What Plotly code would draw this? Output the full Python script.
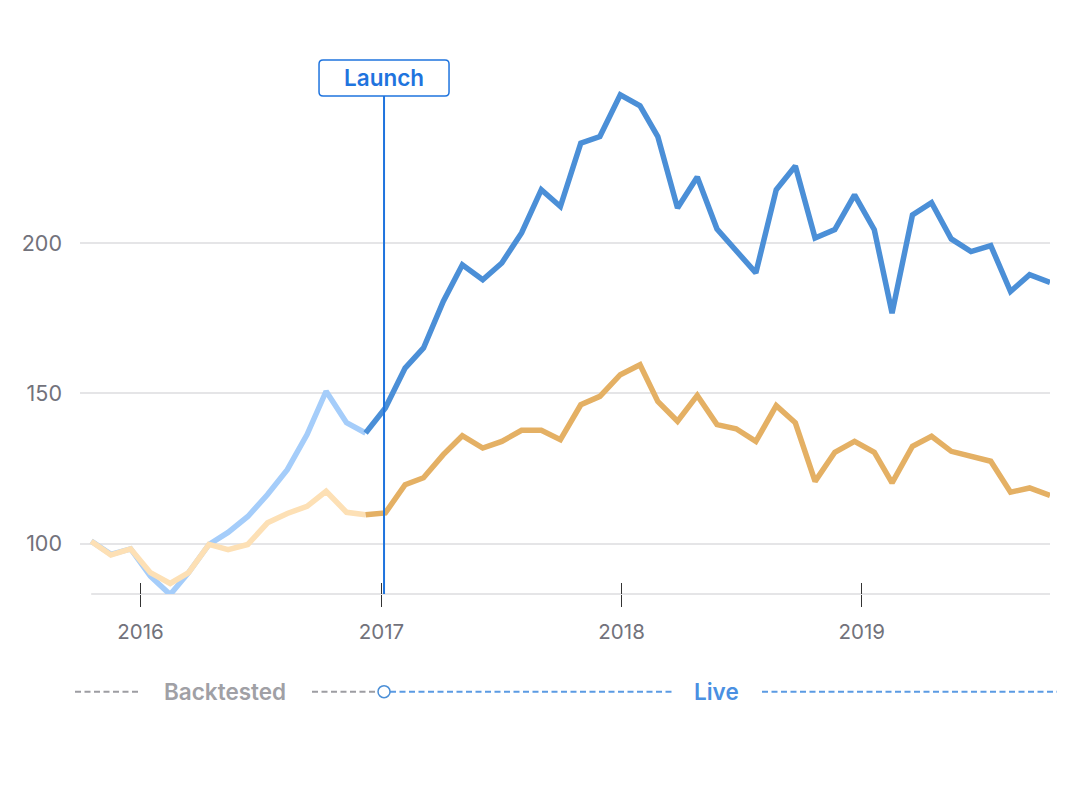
import plotly.graph_objects as go

# ---------------- data ----------------
dates = ["2015-10-18", "2015-11-17", "2015-12-17", "2016-01-16", "2016-02-15", "2016-03-14",
         "2016-04-14", "2016-05-13", "2016-06-12", "2016-07-12", "2016-08-11", "2016-09-10",
         "2016-10-09", "2016-11-09", "2016-12-08", "2017-01-07", "2017-02-06", "2017-03-06",
         "2017-04-05", "2017-05-04", "2017-06-04", "2017-07-03", "2017-08-02", "2017-09-01",
         "2017-09-30", "2017-10-31", "2017-11-29", "2017-12-30", "2018-01-29", "2018-02-25",
         "2018-03-27", "2018-04-26", "2018-05-26", "2018-06-24", "2018-07-24", "2018-08-24",
         "2018-09-22", "2018-10-22", "2018-11-21", "2018-12-21", "2019-01-20", "2019-02-16",
         "2019-03-19", "2019-04-17", "2019-05-17", "2019-06-16", "2019-07-16", "2019-08-15",
         "2019-09-13", "2019-10-14"]

portfolio = [100.8, 96.4, 98.2, 89.1, 83.0, 90.3, 99.7, 103.7, 109.0, 116.3,
             124.6, 136.3, 150.7, 140.2, 136.8, 145.1, 158.4, 165.1, 180.6, 192.8,
             187.8, 193.4, 203.4, 217.8, 212.2, 233.3, 235.5, 249.4, 245.7, 235.5,
             211.7, 222.0, 204.7, 197.8, 190.1, 217.8, 225.7, 201.7, 204.5, 216.1,
             204.5, 176.7, 209.4, 213.5, 201.4, 197.2, 199.2, 183.9, 189.5, 186.9]

benchmark = [100.8, 96.2, 98.2, 90.3, 86.7, 90.3, 99.7, 98.0, 99.7, 106.9,
             110.0, 112.4, 117.4, 110.4, 109.6, 110.2, 119.6, 121.9, 129.6, 135.9,
             131.8, 134.0, 137.7, 137.7, 134.6, 146.2, 149.0, 156.2, 159.5, 147.3,
             140.7, 149.3, 139.6, 138.2, 134.0, 145.9, 140.2, 120.7, 130.4, 134.0,
             130.4, 120.2, 132.4, 135.7, 130.7, 129.0, 127.4, 117.1, 118.5, 116.0]

split_index = 14            # last backtested point (shared with live segment)
launch_date = "2017-01-05"
launch_label = "Launch"
year_ticks = ["2016-01-01", "2017-01-01", "2018-01-01", "2019-01-01"]
year_labels = ["2016", "2017", "2018", "2019"]
y_ticks = [100, 150, 200]
legend_labels = ["Backtested", "Live"]

# ---------------- styles ----------------
BLUE = "#4b8fd7"
BLUE_LIGHT = "#a5cdfa"
ORANGE = "#e4b064"
ORANGE_LIGHT = "#fde0b5"
LAUNCH = "#1f74de"
GRID = "#e5e5e7"
TXT = "#72727b"
FONT = "Inter"
LW = 5.5

x_range = ["2015-10-01", "2019-10-14"]
y_range = [83.2, 264.3]

fig = go.Figure()

s = split_index
fig.add_trace(go.Scatter(x=dates[:s + 1], y=portfolio[:s + 1], mode="lines",
                         line=dict(color=BLUE_LIGHT, width=LW), hoverinfo="skip"))
fig.add_trace(go.Scatter(x=dates[:s + 1], y=benchmark[:s + 1], mode="lines",
                         line=dict(color=ORANGE_LIGHT, width=LW), hoverinfo="skip"))
fig.add_trace(go.Scatter(x=dates[s:], y=portfolio[s:], mode="lines",
                         line=dict(color=BLUE, width=LW), hoverinfo="skip"))
fig.add_trace(go.Scatter(x=dates[s:], y=benchmark[s:], mode="lines",
                         line=dict(color=ORANGE, width=LW), hoverinfo="skip"))
# invisible trace for inner tick axis
fig.add_trace(go.Scatter(x=[dates[0]], y=[portfolio[0]], xaxis="x2", mode="lines",
                         line=dict(width=0), opacity=0, hoverinfo="skip"))

fig.update_layout(
    width=1065, height=800,
    margin=dict(l=72, r=23, t=42, b=214),
    paper_bgcolor="white", plot_bgcolor="white",
    showlegend=False,
    font=dict(family=FONT, color=TXT, size=19),
    xaxis=dict(type="date", range=x_range, tickvals=year_ticks, ticktext=year_labels,
               ticks="outside", ticklen=12, tickwidth=1, tickcolor="#333333",
               showgrid=False, zeroline=False, showline=False,
               tickfont=dict(size=20.5, color=TXT), ticklabelstandoff=7),
    xaxis2=dict(type="date", range=x_range, overlaying="x", anchor="y", side="bottom",
                tickvals=year_ticks, ticks="inside", ticklen=11, tickwidth=1,
                tickcolor="#333333", showticklabels=False, showgrid=False,
                zeroline=False, showline=False),
    yaxis=dict(range=y_range, tickvals=y_ticks, showgrid=True, gridcolor=GRID,
               gridwidth=2, zeroline=False, showline=False, ticks="",
               tickfont=dict(size=21.5, color=TXT), ticklabelstandoff=17),
)

# baseline from first to last point
fig.add_shape(type="line", xref="x", yref="paper", x0=dates[0], x1=dates[-1], y0=0, y1=0,
              line=dict(color=GRID, width=2), layer="below")

# launch line
fig.add_shape(type="line", xref="x", yref="paper", x0=launch_date, x1=launch_date,
              y0=0, y1=0.9155, line=dict(color=LAUNCH, width=2), layer="above")

# launch label box (rounded, pixel sized)
r = 4
w, h = 65, 18
path = (f"M {-w + r},{h} L {w - r},{h} Q {w},{h} {w},{h - r} L {w},{-h + r} "
        f"Q {w},{-h} {w - r},{-h} L {-w + r},{-h} Q {-w},{-h} {-w},{-h + r} "
        f"L {-w},{h - r} Q {-w},{h} {-w + r},{h} Z")
box_y = (594.3 - 78) / 544.3
fig.add_shape(type="path", xref="x", yref="paper", xsizemode="pixel", ysizemode="pixel",
              xanchor=launch_date, yanchor=box_y, path=path,
              line=dict(color=LAUNCH, width=1.5), fillcolor="white", layer="above")
fig.add_annotation(x=launch_date, xref="x", y=box_y, yref="paper", yanchor="middle",
                   xanchor="center", text=launch_label, showarrow=False,
                   font=dict(family=FONT, size=22.5, color=LAUNCH, weight=600))

# bottom timeline legend
ly = (594.3 - 692) / 544.3
def px(p):
    return (p - 80) / 970.0

for a, b, col in [(75, 140, "#9d9da2"), (312, 378, "#9d9da2"),
                  (390, 672, "#5b9be3"), (762, 1057, "#5b9be3")]:
    fig.add_shape(type="line", xref="paper", yref="paper", x0=px(a), x1=px(b), y0=ly, y1=ly,
                  line=dict(color=col, width=2, dash="6px,3.5px"))

fig.add_shape(type="circle", xref="x", yref="paper", xsizemode="pixel", ysizemode="pixel",
              xanchor=launch_date, yanchor=ly, x0=-6, x1=6, y0=-6, y1=6,
              line=dict(color="#4b8fd7", width=1.5), fillcolor="white")

fig.add_annotation(x=px(225), y=ly, xref="paper", yref="paper", yanchor="middle",
                   xanchor="center", text=legend_labels[0], showarrow=False,
                   font=dict(family=FONT, size=22.5, color="#a0a0a5", weight=600))
fig.add_annotation(x=px(716), y=ly, xref="paper", yref="paper", yanchor="middle",
                   xanchor="center", text=legend_labels[1], showarrow=False,
                   font=dict(family=FONT, size=22.5, color="#4a90e2", weight=600))

fig.write_html("out.html", config={"displayModeBar": False})
